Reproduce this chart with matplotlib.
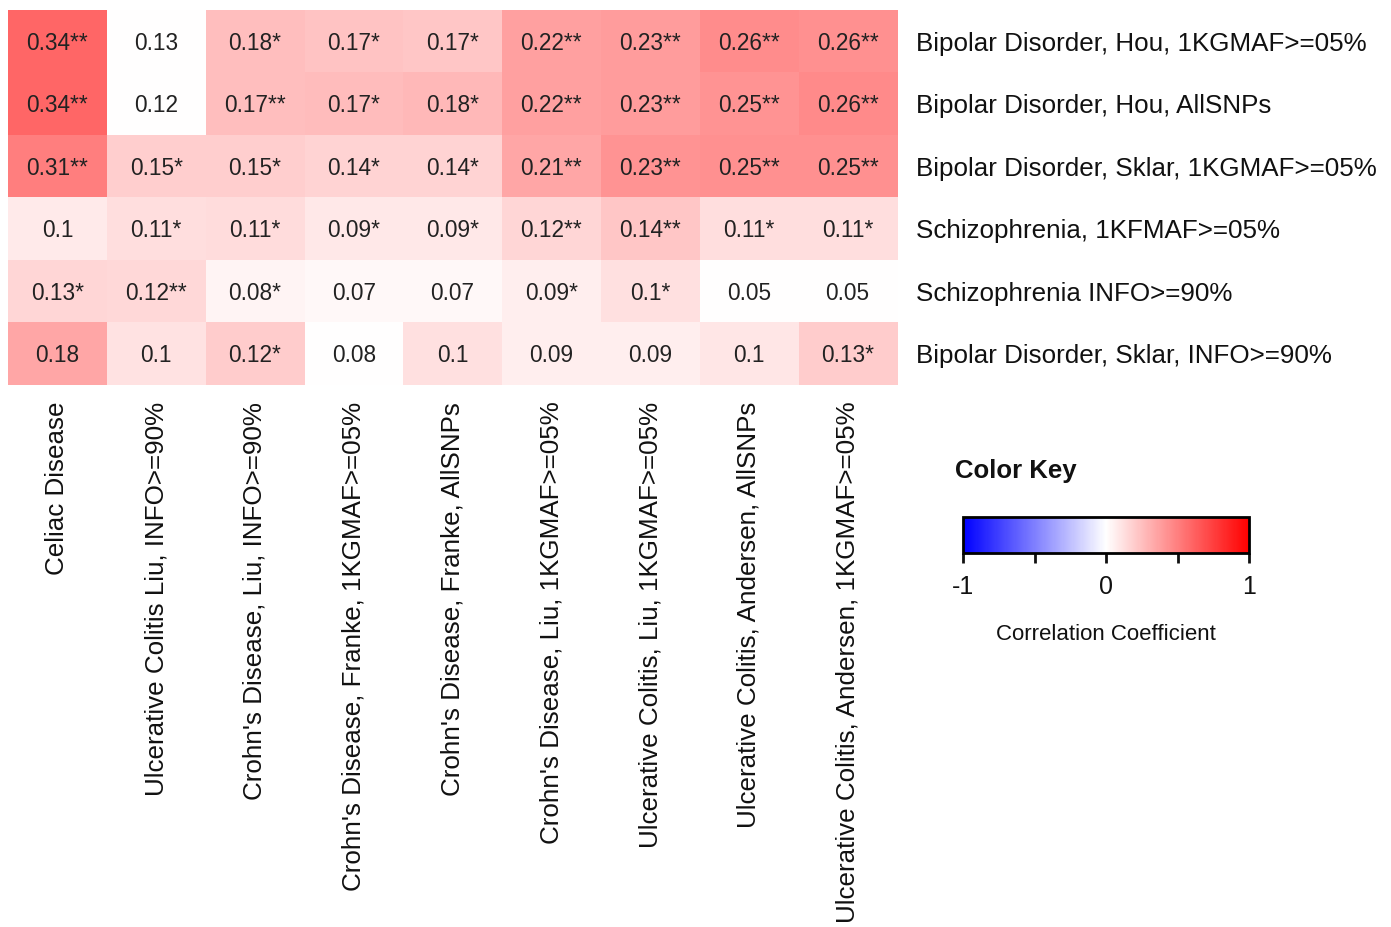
import numpy as np
import matplotlib
matplotlib.use("Agg")
import matplotlib.pyplot as plt
from matplotlib.cm import ScalarMappable
from matplotlib.colors import Normalize

plt.rcParams['font.family'] = ['Liberation Sans', 'DejaVu Sans']

col_labels = [
    "Celiac Disease",
    "Ulcerative Colitis Liu, INFO>=90%",
    "Crohn's Disease, Liu, INFO>=90%",
    "Crohn's Disease, Franke, 1KGMAF>=05%",
    "Crohn's Disease, Franke, AllSNPs",
    "Crohn's Disease, Liu, 1KGMAF>=05%",
    "Ulcerative Colitis, Liu, 1KGMAF>=05%",
    "Ulcerative Colitis, Andersen, AllSNPs",
    "Ulcerative Colitis, Andersen, 1KGMAF>=05%",
]
row_labels = [
    "Bipolar Disorder, Hou, 1KGMAF>=05%",
    "Bipolar Disorder, Hou, AllSNPs",
    "Bipolar Disorder, Sklar, 1KGMAF>=05%",
    "Schizophrenia, 1KFMAF>=05%",
    "Schizophrenia INFO>=90%",
    "Bipolar Disorder, Sklar, INFO>=90%",
]

# printed correlation values
values = [
    [0.34, 0.13, 0.18, 0.17, 0.17, 0.22, 0.23, 0.26, 0.26],
    [0.34, 0.12, 0.17, 0.17, 0.18, 0.22, 0.23, 0.25, 0.26],
    [0.31, 0.15, 0.15, 0.14, 0.14, 0.21, 0.23, 0.25, 0.25],
    [0.10, 0.11, 0.11, 0.09, 0.09, 0.12, 0.14, 0.11, 0.11],
    [0.13, 0.12, 0.08, 0.07, 0.07, 0.09, 0.10, 0.05, 0.05],
    [0.18, 0.10, 0.12, 0.08, 0.10, 0.09, 0.09, 0.10, 0.13],
]
# significance stars
stars = [
    ["**", "", "*", "*", "*", "**", "**", "**", "**"],
    ["**", "", "**", "*", "*", "**", "**", "**", "**"],
    ["**", "*", "*", "*", "*", "**", "**", "**", "**"],
    ["", "*", "*", "*", "*", "**", "**", "*", "*"],
    ["*", "**", "*", "", "", "*", "*", "", ""],
    ["", "", "*", "", "", "", "", "", "*"],
]
# cell shading (colour-key scale)
shade = [
    [0.60, 0.00, 0.25, 0.23, 0.22, 0.37, 0.39, 0.45, 0.43],
    [0.60, 0.00, 0.25, 0.26, 0.28, 0.37, 0.39, 0.42, 0.46],
    [0.50, 0.19, 0.19, 0.17, 0.17, 0.35, 0.42, 0.43, 0.43],
    [0.08, 0.13, 0.14, 0.09, 0.09, 0.16, 0.22, 0.13, 0.13],
    [0.16, 0.15, 0.04, 0.03, 0.03, 0.07, 0.12, 0.00, 0.00],
    [0.35, 0.11, 0.20, 0.00, 0.12, 0.07, 0.07, 0.10, 0.20],
]

W, H = 1391, 927
fig = plt.figure(figsize=(W / 100, H / 100), dpi=100)

ax = fig.add_axes([8 / W, 1 - 385 / H, 889 / W, 375 / H])
ax.imshow(np.array(shade), cmap='bwr', vmin=-1, vmax=1, aspect='auto',
          interpolation='nearest')
nr, nc = len(row_labels), len(col_labels)
for i in range(nr):
    for j in range(nc):
        ax.text(j, i + 0.03, f"{values[i][j]:g}{stars[i][j]}", ha='center',
                va='center', fontsize=16.3, color='#222222')
ax.set_xticks(range(nc))
ax.set_xticklabels(col_labels, rotation=90, ha='center', va='top', fontsize=18.7,
                   color='#111111')
ax.set_yticks(range(nr))
ax.set_yticklabels(row_labels, fontsize=18.7, color='#111111')
ax.yaxis.tick_right()
ax.tick_params(axis='x', length=0, pad=12)
ax.tick_params(axis='y', length=0, pad=14)
for s in ax.spines.values():
    s.set_visible(False)

# colour key
fig.text(955 / W, 1 - 471 / H, "Color Key", fontsize=18.5, fontweight='bold',
         ha='left', va='center', color='#111111')
cax = fig.add_axes([963 / W, 1 - 553 / H, 286 / W, 36 / H])
sm = ScalarMappable(norm=Normalize(-1, 1), cmap='bwr')
cb = fig.colorbar(sm, cax=cax, orientation='horizontal')
cb.outline.set_linewidth(2)
cb.set_ticks([-1, -0.5, 0, 0.5, 1])
cb.set_ticklabels(['-1', '', '0', '', '1'])
cax.tick_params(length=7, width=2, labelsize=18, pad=9, colors='#111111')
cb.set_label("Correlation Coefficient", fontsize=16, labelpad=18, color='#111111')

fig.savefig("out.png", dpi=100)
